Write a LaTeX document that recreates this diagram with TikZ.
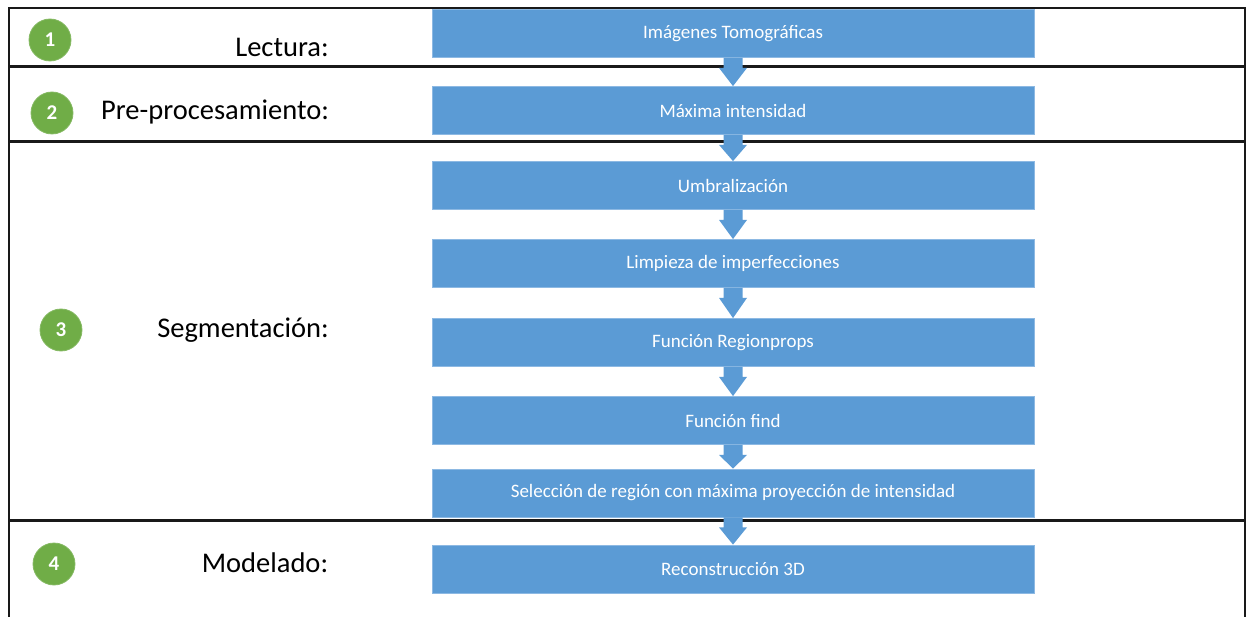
\documentclass[tikz,border=0pt]{standalone}
\usepackage{fontspec}
\setmainfont{Carlito}
\usetikzlibrary{calc}
\definecolor{boxblue}{HTML}{5B9BD5}
\definecolor{boxedge}{HTML}{8DB9E3}
\definecolor{stepgreen}{HTML}{70AD47}
\tikzset{
  flowbox/.style={fill=boxblue, draw=boxedge, line width=0.8pt, minimum width=602pt, minimum height=48pt, inner sep=0pt, text=white, font=\fontsize{19}{22}\selectfont},
  numcircle/.style={circle, fill=stepgreen, draw=stepgreen!85!white, line width=0.8pt, minimum size=42pt, inner sep=0pt, text=white, font=\fontsize{21}{24}\selectfont\bfseries},
  phaselabel/.style={inner sep=0pt, font=\fontsize{28.5}{33}\selectfont, text=black},
  framelinev/.style={line width=2.2pt, black!90},
  sepline/.style={line width=3pt, black!90}
}
\newcommand{\flowarrowshape}[2]{%
  \fill[boxblue] ($(#1.south)+(-9.5,0)$) -- ($(#1.south)+(9.5,0)$) -- ($(#1.south)+(9.5,10)$) -- ($(#1.south)+(14,10)$) -- (#2.north) -- ($(#1.south)+(-14,10)$) -- ($(#1.south)+(-9.5,10)$) -- cycle;}
\begin{document}
\begin{tikzpicture}[x=1pt,y=-1pt]
\useasboundingbox (0,0) rectangle (1250,617);
% frame
\draw[framelinev] (9,630) -- (9,8) -- (1245,8) -- (1245,630);
\draw[sepline] (9,67) -- (1245,67);
\draw[sepline] (9,142) -- (1245,142);
\draw[sepline] (9,520) -- (1245,520);
% boxes
\node[flowbox] (b1) at (733,33.5) {Imágenes Tomográficas};
\node[flowbox] (b2) at (733,110.5) {Máxima intensidad};
\node[flowbox] (b3) at (733,185.5) {Umbralización};
\node[flowbox] (b4) at (733,263.5) {Limpieza de imperfecciones};
\node[flowbox] (b5) at (733,342.5) {Función Regionprops};
\node[flowbox] (b6) at (733,420.5) {Función find};
\node[flowbox] (b7) at (733,493) {Selección de región con máxima proyección de intensidad};
\node[flowbox] (b8) at (733,569) {Reconstrucción 3D};
% arrows
\flowarrowshape{b1}{b2}
\flowarrowshape{b2}{b3}
\flowarrowshape{b3}{b4}
\flowarrowshape{b4}{b5}
\flowarrowshape{b5}{b6}
\flowarrowshape{b6}{b7}
\flowarrowshape{b7}{b8}
% step numbers
\node[numcircle] (n1) at (50,40) {1};
\node[numcircle] (n2) at (52,113) {2};
\node[numcircle] (n3) at (61,330) {3};
\node[numcircle] (n4) at (54,564) {4};
% labels
\node[phaselabel] (l1) at (282,47) {Lectura:};
\node[phaselabel] (l2) at (215,112) {Pre-procesamiento:};
\node[phaselabel] (l3) at (243,330) {Segmentación:};
\node[phaselabel] (l4) at (265,563) {Modelado:};
\end{tikzpicture}
\end{document}
